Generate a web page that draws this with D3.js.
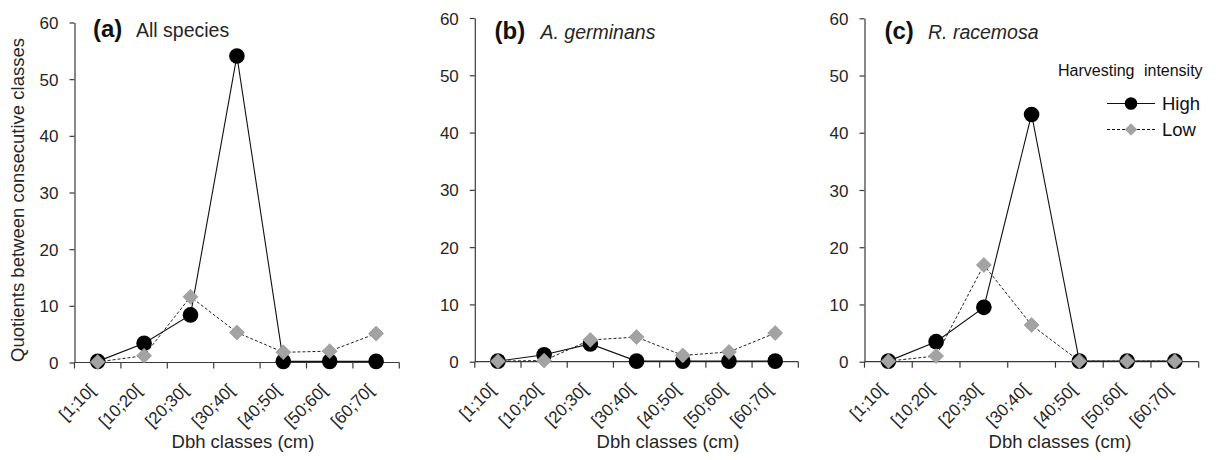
<!DOCTYPE html>
<html>
<head>
<meta charset="utf-8">
<script src="https://cdn.jsdelivr.net/npm/d3@7"></script>
<style>
  html, body { margin: 0; padding: 0; background: #fff; }
  svg { display: block; font-family: "Liberation Sans", Arial, Helvetica, sans-serif; }
</style>
</head>
<body>
<svg id="chart" width="1216" height="460"></svg>
<script>
// ---------------- data ----------------
const categories = ["[1;10[", "[10;20[", "[20;30[", "[30;40[", "[40;50[", "[50;60[", "[60;70["];
const yTicks = [0, 10, 20, 30, 40, 50, 60];
const seriesNames = ["High", "Low"];

const allSpeciesHigh = [0.2, 3.4, 8.4, 54.1, 0.2, 0.2, 0.2];
const allSpeciesLow  = [0.1, 1.2, 11.6, 5.3, 1.8, 2.0, 5.1];

const germinansHigh = [0.1, 1.2, 3.1, 0.1, 0.1, 0.1, 0.1];
const germinansLow  = [0.1, 0.2, 3.8, 4.3, 1.1, 1.7, 5.0];

const racemosaHigh = [0.1, 3.5, 9.5, 43.2, 0.1, 0.1, 0.1];
const racemosaLow  = [0.1, 1.0, 16.9, 6.4, 0.1, 0.1, 0.1];

const panelLetters = ["(a)", "(b)", "(c)"];
const panelNames = ["All species", "A. germinans", "R. racemosa"];
const yTitle = "Quotients between consecutive classes";
const xTitle = "Dbh classes (cm)";
const legendTitle = "Harvesting intensity";

// ---------------- layout ----------------
const layout = [
  { x0: 74.5, x1: 399.3, yTop: 22.5, yBot: 362.5, lx: 93, ly: 37, nx: 136, tx: 243, italic: false },
  { x0: 474.8, x1: 798.3, yTop: 18, yBot: 361.7, lx: 494.5, ly: 39, nx: 540.5, tx: 668, italic: true },
  { x0: 864.5, x1: 1198.7, yTop: 18.3, yBot: 361.7, lx: 884.5, ly: 39, nx: 928, tx: 1060, italic: true }
];
const panelData = [
  [allSpeciesHigh, allSpeciesLow],
  [germinansHigh, germinansLow],
  [racemosaHigh, racemosaLow]
];

const svg = d3.select("#chart");
const textColor = "#262626";
const axisColor = "#3a3a3a";
const lowFill = "#a3a3a3";

function drawDiamond(sel, cx, cy, r) {
  sel.append("path")
    .attr("d", `M${cx},${cy - r}L${cx + r},${cy}L${cx},${cy + r}L${cx - r},${cy}Z`)
    .attr("fill", lowFill)
    .attr("stroke", "#8f8f8f")
    .attr("stroke-width", 0.6);
}

layout.forEach((L, pi) => {
  const g = svg.append("g");
  const x = d3.scaleBand().domain(categories).range([L.x0, L.x1]).padding(0);
  const y = d3.scaleLinear().domain([0, 60]).range([L.yBot, L.yTop]);
  const cx = c => x(c) + x.bandwidth() / 2;

  // y axis
  const yAxis = d3.axisLeft(y).tickValues(yTicks).tickSize(5).tickPadding(11).tickSizeOuter(0);
  const ya = g.append("g").attr("transform", `translate(${L.x0},0)`).call(yAxis);
  ya.select(".domain").attr("stroke", axisColor).attr("stroke-width", 1.2);
  ya.selectAll(".tick line").attr("stroke", axisColor).attr("stroke-width", 1.2);
  ya.selectAll(".tick text")
    .attr("fill", textColor)
    .style("font-size", "17px")
    .style("font-family", "'Liberation Sans', Arial, sans-serif")
    .attr("dy", "0.36em");

  // x axis line + boundary ticks
  const bounds = categories.map(c => x(c)).concat([L.x1]);
  g.append("line")
    .attr("x1", L.x0).attr("x2", L.x1)
    .attr("y1", L.yBot).attr("y2", L.yBot)
    .attr("stroke", axisColor).attr("stroke-width", 1.2);
  g.selectAll(".xt").data(bounds).enter().append("line")
    .attr("x1", d => d).attr("x2", d => d)
    .attr("y1", L.yBot).attr("y2", L.yBot + 6)
    .attr("stroke", axisColor).attr("stroke-width", 1.2);

  // rotated category labels
  g.selectAll(".xl").data(categories).enter().append("text")
    .attr("transform", d => `translate(${cx(d) - 1.5},${L.yBot + 29}) rotate(-45)`)
    .attr("text-anchor", "end")
    .attr("fill", textColor)
    .style("font-size", "17px")
    .text(d => d);

  // x title
  g.append("text")
    .attr("x", L.tx).attr("y", 448)
    .attr("text-anchor", "middle")
    .attr("fill", textColor)
    .style("font-size", "18.5px")
    .text(xTitle);

  // panel label
  g.append("text").attr("x", L.lx).attr("y", L.ly).attr("fill", "#111")
    .style("font-weight", "bold").style("font-size", "24px").text(panelLetters[pi]);
  g.append("text").attr("x", L.nx).attr("y", L.ly).attr("fill", textColor)
    .style("font-size", "19.5px")
    .style("font-style", L.italic ? "italic" : "normal")
    .text(panelNames[pi]);

  const [high, low] = panelData[pi];
  const line = d3.line().x((d, i) => cx(categories[i])).y(d => y(d));

  // High series
  g.append("path").datum(high)
    .attr("d", line).attr("fill", "none")
    .attr("stroke", "#111").attr("stroke-width", 1.1);
  // Low series line
  g.append("path").datum(low)
    .attr("d", line).attr("fill", "none")
    .attr("stroke", "#222").attr("stroke-width", 1)
    .attr("stroke-dasharray", "3,2");

  g.selectAll(".hp").data(high).enter().append("circle")
    .attr("cx", (d, i) => cx(categories[i]))
    .attr("cy", d => y(d))
    .attr("r", 7.8)
    .attr("fill", "#000");

  low.forEach((d, i) => drawDiamond(g, cx(categories[i]), y(d), 7.5));
});

// y title (panel a)
svg.append("text")
  .attr("transform", "translate(24,200) rotate(-90)")
  .attr("text-anchor", "middle")
  .attr("fill", textColor)
  .style("font-size", "18.5px")
  .text(yTitle);

// legend (panel c)
const lg = svg.append("g");
lg.append("text")
  .attr("x", 1058).attr("y", 76)
  .attr("fill", "#111")
  .style("font-size", "16px")
  .style("word-spacing", "5px")
  .text(legendTitle);

const legendRows = [
  { name: seriesNames[0], y: 103.5, dash: null, ty: 110 },
  { name: seriesNames[1], y: 129.5, dash: "3,2", ty: 136 }
];
legendRows.forEach((r, i) => {
  lg.append("line")
    .attr("x1", 1107).attr("x2", 1155)
    .attr("y1", r.y).attr("y2", r.y)
    .attr("stroke", "#111").attr("stroke-width", 1.1)
    .attr("stroke-dasharray", r.dash);
  if (i === 0) {
    lg.append("circle").attr("cx", 1131).attr("cy", r.y).attr("r", 6.3).attr("fill", "#000");
  } else {
    drawDiamond(lg, 1131, r.y, 5.8);
  }
  lg.append("text")
    .attr("x", 1162).attr("y", r.ty)
    .attr("fill", "#111")
    .style("font-size", "18.5px")
    .text(r.name);
});
</script>
</body>
</html>
